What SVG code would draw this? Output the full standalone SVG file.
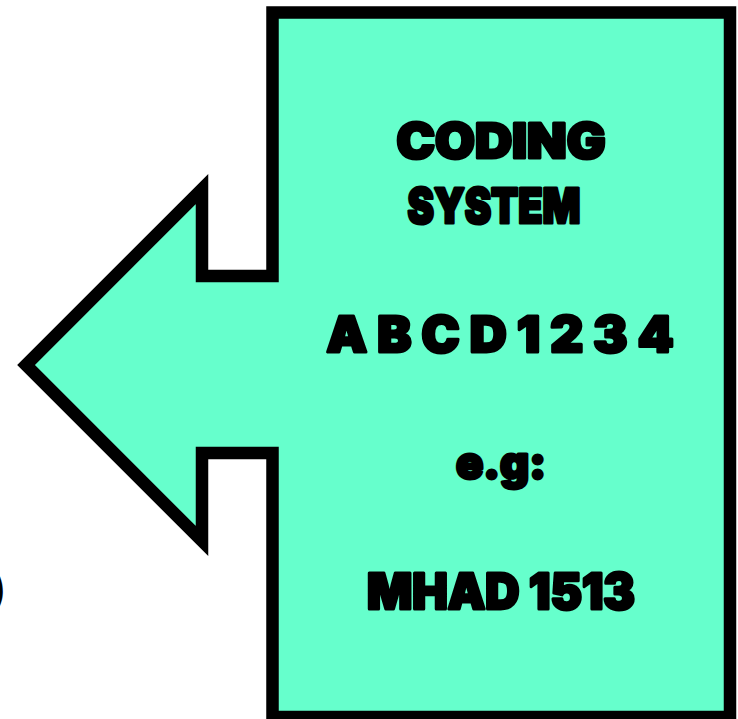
<svg xmlns="http://www.w3.org/2000/svg" width="738" height="719" viewBox="0 0 738 719">
<style>
.t{font-family:Inter,"Liberation Sans",sans-serif;font-weight:900;fill:#000;stroke:#000;stroke-width:3;stroke-linejoin:round;text-anchor:middle}
</style>
<rect width="738" height="719" fill="#fff"/>
<g id="callout">
<path d="M272.5 12.5 H730 V717 H272.5 V453 H202 V541 L26 365 L202 189 V276 H272.5 Z" fill="#66ffcc" stroke="#000" stroke-width="12.5" stroke-linejoin="miter" stroke-miterlimit="10"/>
</g>
<g id="labels">
<text class="t" x="501" y="158" font-size="48" textLength="209" lengthAdjust="spacingAndGlyphs">CODING</text>
<text class="t" x="494" y="223" font-size="48" textLength="173" lengthAdjust="spacingAndGlyphs">SYSTEM</text>
<text class="t" x="500" y="352" font-size="49" textLength="347" lengthAdjust="spacingAndGlyphs">A B C D 1 2 3 4</text>
<text class="t" x="501" y="479" font-size="45" textLength="90" lengthAdjust="spacingAndGlyphs">e.g:</text>
<text class="t" x="501" y="609" font-size="49" textLength="268" lengthAdjust="spacingAndGlyphs">MHAD 1513</text>
</g>
<text class="t" x="-4" y="604" font-size="40">)</text>
</svg>
